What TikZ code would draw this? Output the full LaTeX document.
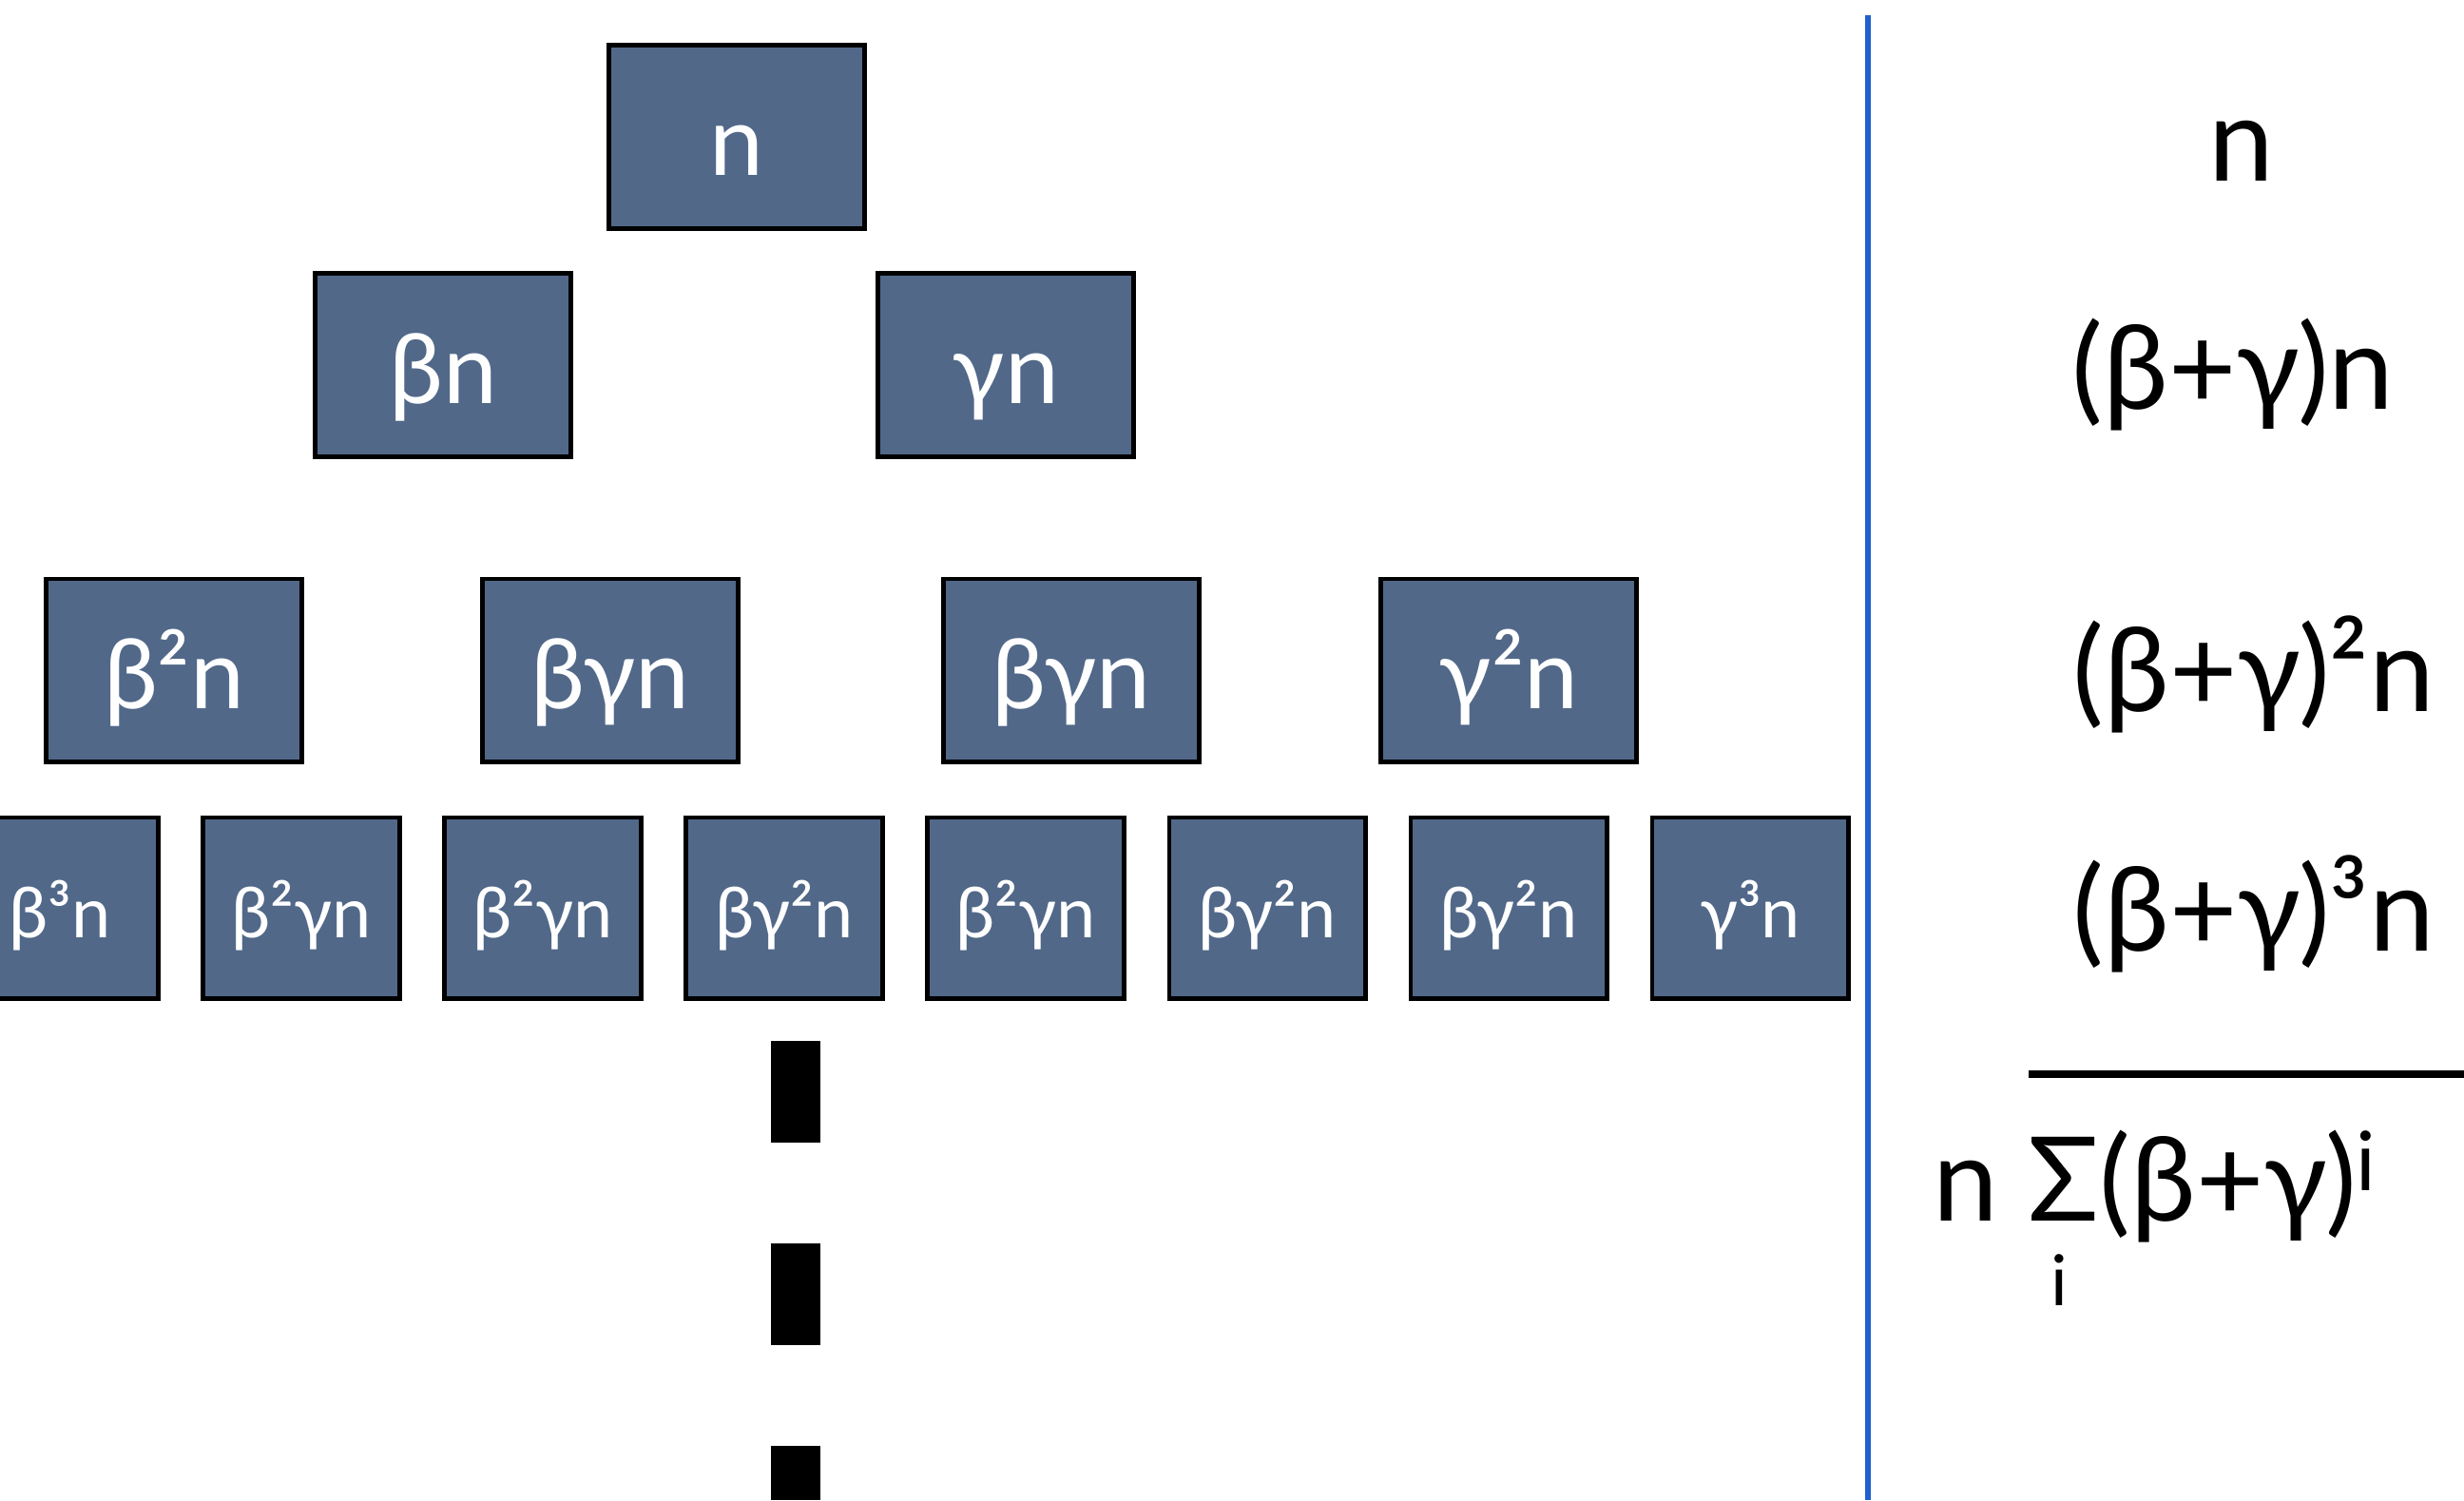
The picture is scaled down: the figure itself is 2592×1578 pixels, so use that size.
\documentclass[tikz,border=0pt]{standalone}
\usepackage{fontspec}
\setmainfont{Lato}
\usepackage{xcolor}
\definecolor{slate}{RGB}{81,104,137}
\definecolor{sepblue}{RGB}{34,96,206}
\tikzset{
    termbox/.style={draw=black, line width=1.4pt, fill=slate, text=white,
        minimum width=2.68cm, minimum height=1.92cm, inner sep=0pt,
        text height=25pt, text depth=2pt, font=\fontsize{29}{34}\selectfont},
    leafbox/.style={termbox, minimum width=2.06cm, minimum height=1.9cm,
        text height=19pt, text depth=1pt, font=\fontsize{21}{25}\selectfont},
    sumtext/.style={anchor=base west, inner sep=0pt, font=\fontsize{35}{42}\selectfont}
}

\begin{document}
\begin{tikzpicture}[x=0.01cm, y=-0.01cm]
    \useasboundingbox (0,0) rectangle (2592,1578);

    % Tree levels
    \node[termbox] (root) at (775,144) {n};

    \node[termbox] (b) at (466,384) {βn};
    \node[termbox] (g) at (1058,384) {γn};

    \node[termbox] (bb) at (183,705) {β²n};
    \node[termbox] (bg) at (642,705) {βγn};
    \node[termbox] (gb) at (1127,705) {βγn};
    \node[termbox] (gg) at (1587,705) {γ²n};

    \node[leafbox] (bbb) at (63,955) {β³n};
    \node[leafbox] (bbg) at (317,955) {β²γn};
    \node[leafbox] (bgb) at (571,955) {β²γn};
    \node[leafbox] (bgg) at (825,955) {βγ²n};
    \node[leafbox] (gbb) at (1079,955) {β²γn};
    \node[leafbox] (gbg) at (1333,955) {βγ²n};
    \node[leafbox] (ggb) at (1587,955) {βγ²n};
    \node[leafbox] (ggg) at (1841,955) {γ³n};

    % Continuation
    \coordinate (dots top) at (837,1095);
    \coordinate (dots end) at (837,1578);
    \draw[line width=0.52cm, dash pattern=on 30.4pt off 30.2pt] (dots top) -- (dots end);

    % Separator
    \coordinate (sep top) at (1965,16);
    \coordinate (sep end) at (1965,1578);
    \draw[sepblue, line width=1.5pt] (sep top) -- (sep end);

    % Level sums
    \node[sumtext] (s0) at (2323,190) {n};
    \node[sumtext] (s1) at (2179,430) {(β+γ)n};
    \node[sumtext] (s2) at (2180,748) {(β+γ)²n};
    \node[sumtext] (s3) at (2180,1000) {(β+γ)³n};

    \coordinate (rule left) at (2134,1130);
    \coordinate (rule right) at (2592,1130);
    \draw[line width=2.3pt] (rule left) -- (rule right);

    \node[sumtext] (total) at (2033,1284) {n Σ(β+γ)\textsuperscript{i}};
    \node[sumtext, font=\fontsize{21}{25}\selectfont] (index) at (2157,1373) {i};
\end{tikzpicture}
\end{document}
